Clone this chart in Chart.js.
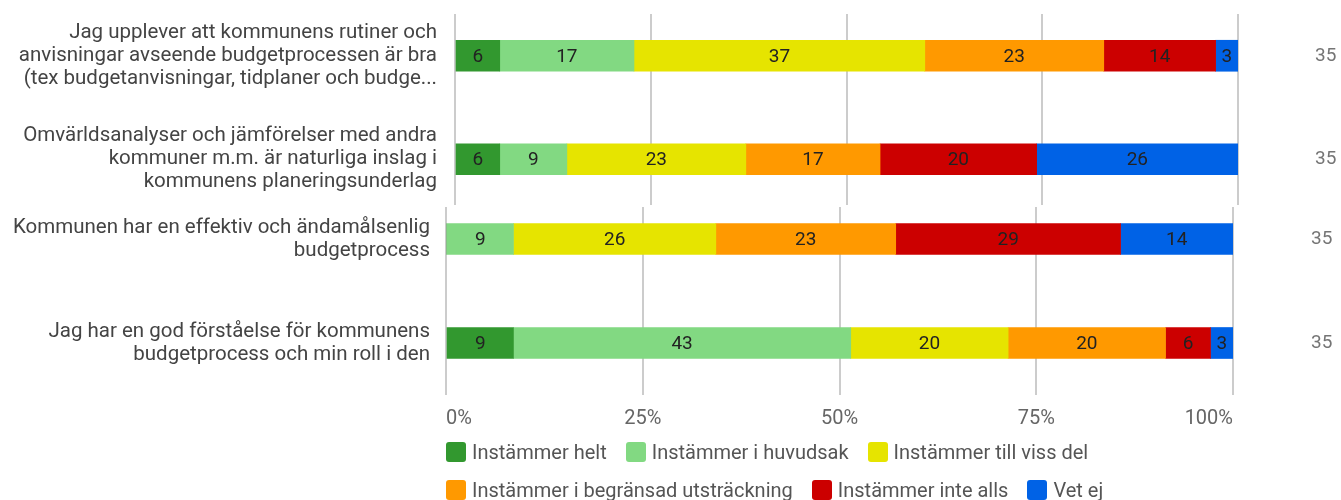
<!DOCTYPE html>
<html lang="sv">
<head>
<meta charset="utf-8">
<script src="https://cdn.jsdelivr.net/npm/chart.js@4"></script>
<style>
  body { margin: 0; background: #fff; }
  #ram { position: relative; width: 1341px; height: 500px; overflow: hidden; background: #fff; }
  canvas { position: absolute; left: 0; }
  #ovre { top: 0; clip-path: inset(14px 0 6px 0); }
  #nedre { top: 187px; clip-path: inset(20px 0 0 0); }
  #legend { position: absolute; left: 446px; top: 442px; font: 20px Roboto, sans-serif; color: #555; }
  .rad { display: flex; height: 38px; }
  .post { display: flex; align-items: flex-start; margin-right: 19px; }
  .ruta { width: 20px; height: 20px; border-radius: 3px; margin-right: 6px; }
  .post span { line-height: 20px; }
</style>
</head>
<body>
<div id="ram">
  <canvas id="ovre" width="1341" height="211"></canvas>
  <canvas id="nedre" width="1341" height="313"></canvas>
  <div id="legend"></div>
</div>
<script>
// Påståenden (y-axeln)
const pastaenden = [
  ["Jag upplever att kommunens rutiner och", "anvisningar avseende budgetprocessen är bra", "(tex budgetanvisningar, tidplaner och budge..."],
  ["Omvärldsanalyser och jämförelser med andra", "kommuner m.m. är naturliga inslag i", "kommunens planeringsunderlag"],
  ["Kommunen har en effektiv och ändamålsenlig", "budgetprocess"],
  ["Jag har en god förståelse för kommunens", "budgetprocess och min roll i den"],
];

// Antal svar per påstående (n = 35)
const svarsalternativ = [
  "Instämmer helt",
  "Instämmer i huvudsak",
  "Instämmer till viss del",
  "Instämmer i begränsad utsträckning",
  "Instämmer inte alls",
  "Vet ej",
];
const helt = [2, 2, 0, 3];
const huvudsak = [6, 3, 3, 15];
const vissDel = [13, 8, 9, 7];
const begransad = [8, 6, 8, 7];
const inteAlls = [5, 7, 10, 2];
const vetEj = [1, 9, 5, 1];
const totalt = [35, 35, 35, 35];

const procentTicks = [0, 25, 50, 75, 100];

const farger = ["#32982f", "#82d982", "#e6e400", "#ff9900", "#cc0000", "#0062e6"];
const serier = [helt, huvudsak, vissDel, begransad, inteAlls, vetEj];

// Etiketter mitt i varje stapel
const etiketter = {
  id: "etiketter",
  afterDatasetsDraw(chart) {
    const ctx = chart.ctx;
    ctx.save();
    ctx.font = "19px Roboto, sans-serif";
    ctx.fillStyle = "#222";
    ctx.textAlign = "center";
    ctx.textBaseline = "middle";
    chart.data.datasets.forEach((ds, i) => {
      chart.getDatasetMeta(i).data.forEach((bar, j) => {
        const antal = ds.antal[j];
        if (!antal) return;
        const pct = Math.round((antal / ds.totalt[j]) * 100);
        ctx.fillText(pct, (bar.x + bar.base) / 2, bar.y + 1);
      });
    });
    ctx.restore();
  },
};

// nollställ den extra plats Chart.js lägger till för etiketterna
function nollaPadding(s) {
  s.paddingTop = 0;
  s.paddingBottom = 0;
  s.paddingLeft = 0;
  s.paddingRight = 0;
}

function skapaDiagram(id, fran, till, inst) {
  const tot = totalt.slice(fran, till);
  const datasets = serier.map((s, i) => {
    const antal = s.slice(fran, till);
    return {
      label: svarsalternativ[i],
      data: antal.map((a, j) => (a / tot[j]) * 100),
      antal: antal,
      totalt: tot,
      backgroundColor: farger[i],
      borderWidth: 0,
      barThickness: 31,
    };
  });

  return new Chart(document.getElementById(id).getContext("2d"), {
    type: "bar",
    data: { labels: pastaenden.slice(fran, till), datasets: datasets },
    options: {
      indexAxis: "y",
      responsive: false,
      animation: false,
      layout: { padding: { top: inst.padTop, bottom: inst.padBottom, left: 0, right: 0 } },
      plugins: { legend: { display: false }, tooltip: { enabled: false } },
      scales: {
        x: {
          stacked: true,
          min: 0,
          max: 100,
          afterBuildTicks: (s) => {
            s.ticks = procentTicks.map((v) => ({ value: v }));
          },
          grid: { color: "#cccccc", lineWidth: 2, drawTicks: false },
          border: { display: false },
          ticks: {
            display: inst.visaX,
            align: "inner",
            padding: 12,
            color: "#666",
            font: { family: "Roboto", size: 20 },
            callback: (v) => v + "%",
          },
          afterFit: (s) => {
            s.height = inst.xHojd;
            nollaPadding(s);
          },
        },
        y: {
          stacked: true,
          grid: { display: false, drawTicks: false },
          border: { display: false },
          ticks: {
            padding: inst.etikettPadding,
            color: "#444",
            font: { family: "Roboto", size: 20.5, lineHeight: 1.12 },
          },
          afterFit: (s) => {
            s.width = inst.vanster;
            nollaPadding(s);
          },
        },
        y2: {
          type: "category",
          position: "right",
          offset: true,
          labels: tot.map(String),
          grid: { display: false, drawTicks: false },
          border: { display: false },
          ticks: {
            padding: inst.totPadding,
            color: "#757575",
            font: { family: "Roboto", size: 19 },
          },
          afterFit: (s) => {
            s.width = inst.hoger;
            nollaPadding(s);
          },
        },
      },
    },
    plugins: [etiketter],
  });
}

skapaDiagram("ovre", 0, 2, {
  padTop: 4, padBottom: 0, visaX: false, xHojd: 0,
  vanster: 455, hoger: 103, etikettPadding: 18, totPadding: 77,
});
skapaDiagram("nedre", 2, 4, {
  padTop: 0, padBottom: 65, visaX: true, xHojd: 40,
  vanster: 446, hoger: 108, etikettPadding: 16, totPadding: 78,
});

// Teckenförklaring i två rader
const legend = document.getElementById("legend");
[[0, 3], [3, 6]].forEach(([a, b]) => {
  const rad = document.createElement("div");
  rad.className = "rad";
  for (let i = a; i < b; i++) {
    const post = document.createElement("div");
    post.className = "post";
    post.innerHTML = `<div class="ruta" style="background:${farger[i]}"></div><span>${svarsalternativ[i]}</span>`;
    rad.appendChild(post);
  }
  legend.appendChild(rad);
});
</script>
</body>
</html>
